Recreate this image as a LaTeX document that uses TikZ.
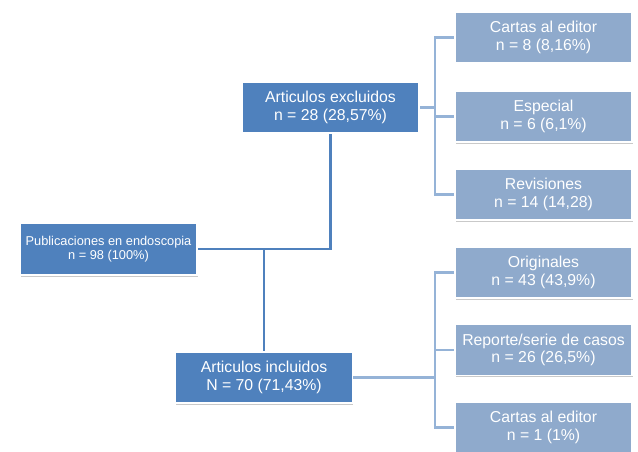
\documentclass[tikz,border=0pt]{standalone}
\usepackage{fontspec}
\setmainfont{Liberation Sans}
\usetikzlibrary{shadows,backgrounds}
\definecolor{darkbox}{RGB}{79,129,189}
\definecolor{lightbox}{RGB}{143,170,204}
\definecolor{lightline}{RGB}{149,179,215}
\tikzset{
  boxbase/.style={rectangle, draw=white, line width=1.2pt, text=white, align=center, inner sep=0pt,
    drop shadow={shadow xshift=0.6pt, shadow yshift=-1.5pt, opacity=0.35, fill=black!60}},
  darknode/.style={boxbase, fill=darkbox, minimum width=177pt, minimum height=51pt,
    font=\fontsize{15.8}{17.7}\selectfont},
  smallnode/.style={boxbase, fill=darkbox, minimum width=177pt, minimum height=52pt,
    font=\fontsize{12.8}{14.3}\selectfont},
  lightnode/.style={boxbase, fill=lightbox, minimum width=177pt, minimum height=51pt,
    font=\fontsize{15.8}{17.7}\selectfont},
  darkconn/.style={draw=darkbox, line width=2.6pt},
  lightconn/.style={draw=lightline, line width=2.6pt}
}
\begin{document}
\begin{tikzpicture}[x=1pt,y=-1pt]
\useasboundingbox (0,0) rectangle (638,452);
\coordinate (bx1) at (435,0);
\coordinate (j1) at (264,249);
\node[smallnode] (pub) at (108.5,249) {Publicaciones en endoscopia\\n = 98 (100\%)};
\node[darknode] (exc) at (330.5,107.5) {Articulos excluidos\\n = 28 (28,57\%)};
\node[darknode] (inc) at (264,377.5) {Articulos incluidos\\N = 70 (71,43\%)};
\node[lightnode] (c1) at (543.5,37.5) {Cartas al editor\\n = 8 (8,16\%)};
\node[lightnode] (esp) at (543.5,116.5) {Especial\\n = 6 (6,1\%)};
\node[lightnode] (rev) at (543.5,194.5) {Revisiones\\n = 14 (14,28)};
\node[lightnode] (ori) at (543.5,272.5) {Originales\\n = 43 (43,9\%)};
\node[lightnode] (rep) at (543.5,350) {Reporte/serie de casos\\n = 26 (26,5\%)};
\node[lightnode] (c2) at (543.5,427.5) {Cartas al editor\\n = 1 (1\%)};
\begin{pgfonlayer}{background}
\fill[white] (0,0) rectangle (638,452);
\draw[darkconn] (pub.east) -- (exc.south |- pub.east) -- (exc.south);
\draw[darkconn] (j1) -- (inc.north);
\draw[lightconn] (exc.east) -- (bx1 |- exc.east);
\draw[lightconn] (c1.west) -| (bx1 |- rev.west) -- (rev.west);
\draw[lightconn] (esp.west) -- (bx1 |- esp.west);
\draw[lightconn] (inc.east) -- (bx1 |- inc.east);
\draw[lightconn] (ori.west) -| (bx1 |- c2.west) -- (c2.west);
\draw[lightconn] (rep.west) -- (bx1 |- rep.west);
\end{pgfonlayer}
\end{tikzpicture}
\end{document}
